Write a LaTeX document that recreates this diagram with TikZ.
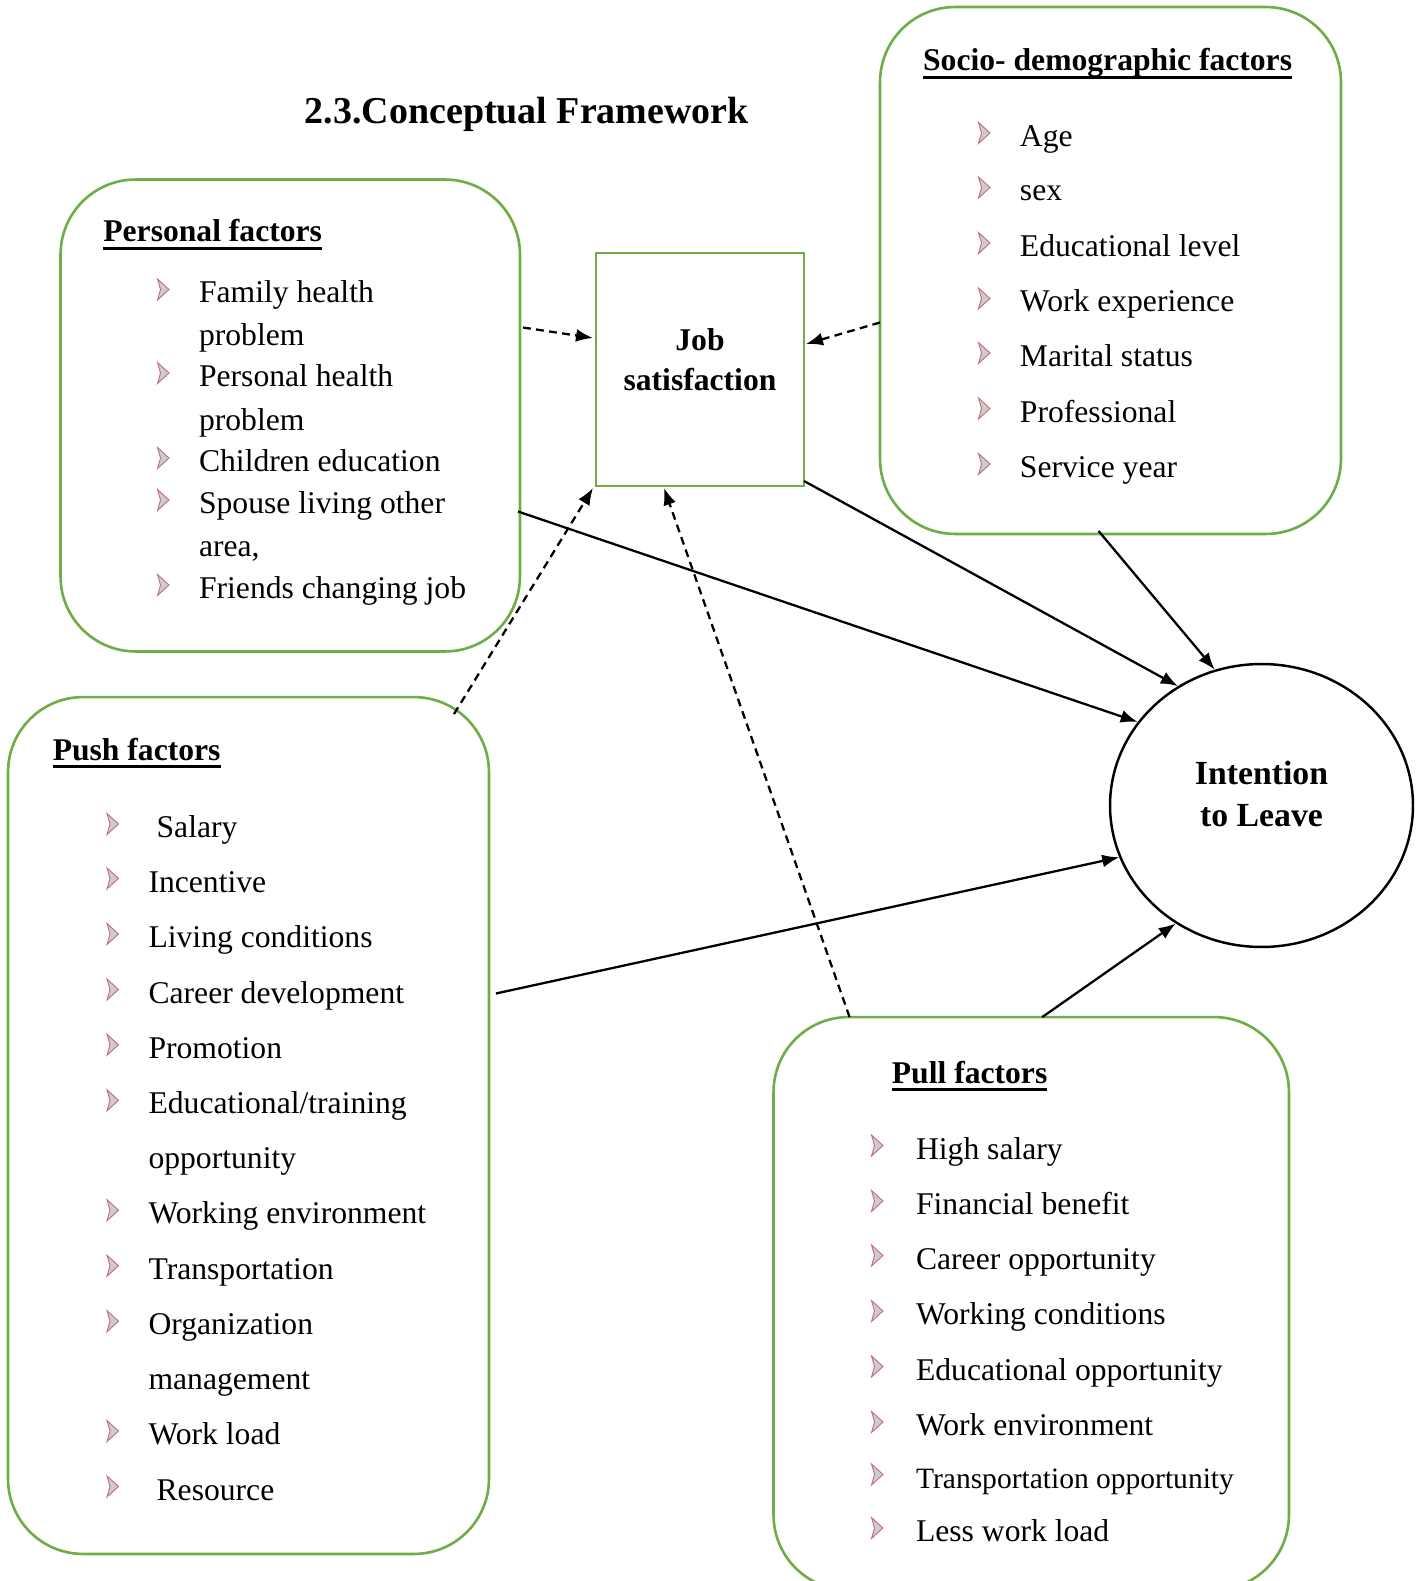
\documentclass[tikz,border=0pt]{standalone}
\usepackage{fontspec}
\setmainfont{Liberation Serif}
\usepackage{xcolor}
\usetikzlibrary{calc,arrows.meta,shapes.geometric}
\definecolor{boxgreen}{RGB}{112,173,71}
\definecolor{bulletred}{RGB}{195,105,120}
\newcommand{\headu}[1]{\setbox0\hbox{#1}\rlap{\rule[-4.6pt]{\wd0}{1.6pt}}\box0}

\begin{document}
\begin{tikzpicture}[x=0.02cm,y=-0.02cm,
	factorbox/.style={draw=boxgreen, line width=1.5pt, rounded corners=1.5cm, rectangle, outer sep=0pt},
	item/.style={anchor=base west, inner sep=0pt, font=\fontsize{18}{22}\selectfont},
	head/.style={item, font=\fontsize{18}{22}\selectfont\bfseries},
	solidarr/.style={line width=1.3pt, -{Latex[length=3.4mm,width=2.6mm]}},
	dasharr/.style={solidarr, dash pattern=on 4.5pt off 3pt},
	chev/.pic={\filldraw[fill=gray!40, draw=bulletred, line width=0.5pt] (-5.5,-10.5) -- (6,0) -- (-5.5,10.5) -- (-2.5,0) -- cycle;}]
\useasboundingbox (0,0) rectangle (1421,1581);

\node[anchor=base west, inner sep=0pt, font=\fontsize{21.6}{26}\selectfont\bfseries] (title) at (304.6,124) {2.3.Conceptual Framework};

\node[factorbox, minimum width=9.19cm, minimum height=9.44cm] (personal) at (290.25,415.5) {};
\node[factorbox, minimum width=9.22cm, minimum height=10.54cm] (socio) at (1110.5,270.5) {};
\node[factorbox, minimum width=9.62cm, minimum height=17.14cm] (push) at (248.5,1125.5) {};
\node[factorbox, minimum width=10.31cm, minimum height=11.46cm] (pull) at (1031.25,1303.5) {};
\node[draw=boxgreen, line width=1.5pt, minimum width=4.16cm, minimum height=4.66cm, outer sep=0pt] (job) at (700,369.5) {};
\node[align=center, inner sep=0pt, font=\fontsize{18}{22.8}\selectfont\bfseries] (jobtxt) at (700,360) {Job\\satisfaction};
\node[draw, ellipse, line width=1.4pt, minimum width=6.06cm, minimum height=5.66cm] (intent) at (1261.5,805.5) {};
\node[align=center, inner sep=0pt, font=\fontsize{19.2}{24}\selectfont\bfseries] (intenttxt) at (1261.5,794) {Intention\\to Leave};

% Personal factors
\node[head] (personalhead) at (103,242) {\headu{Personal factors}};
\foreach \yy/\txt [count=\i] in {303/Family health, 345.5/problem, 386.5/Personal health, 430/problem, 471.5/Children education, 513.5/Spouse living other, 556/{area,}, 598.5/Friends changing job}{
	\node[item] (pers\i) at (198.7,\yy) {\txt};
}
\foreach \yy in {303,386.5,471.5,513.5,598.5}
	\pic at (163,\yy-13.5) {chev};

% Socio-demographic factors
\node[head] (sociohead) at (922.8,71) {\headu{Socio- demographic factors}};
\foreach \yy/\txt [count=\i] in {146.5/Age, 201/sex, 256.5/Educational level, 312/Work experience, 366.5/Marital status, 422/Professional, 477.5/Service year}{
	\node[item] (soc\i) at (1019.6,\yy) {\txt};
	\pic at (984,\yy-13.5) {chev};
}

% Push factors
\node[head] (pushhead) at (52.4,760) {\headu{Push factors}};
\foreach \yy/\xx/\txt/\bul [count=\i] in {837.5/156.3/Salary/1, 892/148.2/Incentive/1, 947.5/148.2/Living conditions/1, 1003/148.2/Career development/1, 1058.3/148.2/Promotion/1, 1113.8/148.2/Educational\slash training/1, 1168.3/148.2/opportunity/0, 1223.7/148.2/Working environment/1, 1279.2/148.2/Transportation/1, 1334.7/148.2/Organization/1, 1389/148.2/management/0, 1444.5/148.2/Work load/1, 1500/156.3/Resource/1}{
	\node[item] (push\i) at (\xx,\yy) {\txt};
	\ifnum\bul=1 \pic at (112.5,\yy-13.5) {chev}; \fi
}

% Pull factors
\node[head] (pullhead) at (891.5,1083) {\headu{Pull factors}};
\foreach \yy/\txt [count=\i] in {1159/High salary, 1214.5/Financial benefit, 1269/Career opportunity, 1324.5/Working conditions, 1380/Educational opportunity, 1435.5/Work environment, 1488/{\fontsize{16.8}{20}\selectfont Transportation opportunity}, 1541.5/Less work load}{
	\node[item] (pull\i) at (915.7,\yy) {\txt};
	\pic at (877,\yy-13.5) {chev};
}

% arrows
\draw[dasharr] ($(personal.east)+(3,-88)$) -- ($(job.west)+(-3,-31.5)$);
\draw[dasharr] ($(socio.west)+(0,52)$) -- ($(job.east)+(2,-25.5)$);
\draw[dasharr] ($(push.north east)+(-35,17)$) -- ($(job.south west)+(-3,2)$);
\draw[dasharr] ($(pull.north west)+(76,0)$) -- ($(job.south)+(-36,2)$);

\draw[solidarr] ($(personal.east)+(-2,96)$) -- (intent.146);
\draw[solidarr] ($(job.south east)+(0,-5)$) -- (intent.125);
\draw[solidarr] ($(socio.south)+(-12,-3)$) -- (intent.109);
\draw[solidarr] ($(push.east)+(7,-132)$) -- (intent.200);
\draw[solidarr] ($(pull.north)+(11,0)$) -- (intent.234);

\end{tikzpicture}
\end{document}
